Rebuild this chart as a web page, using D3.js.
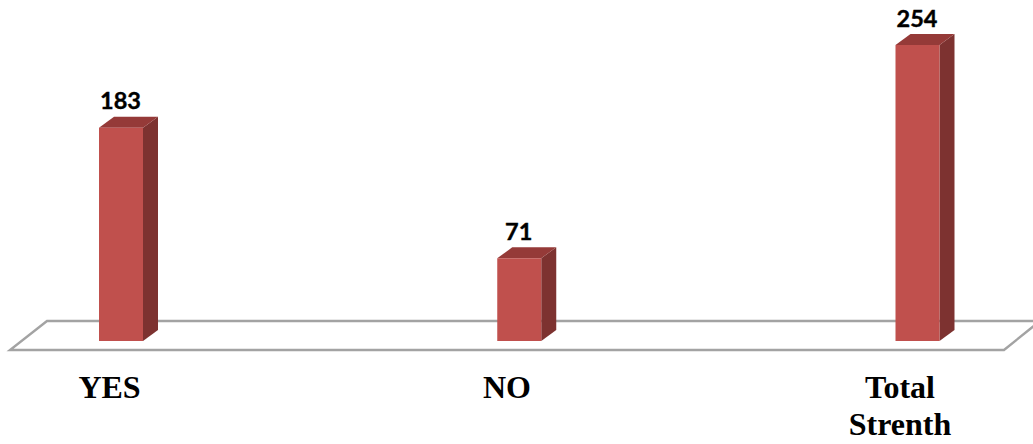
<!DOCTYPE html>
<html><head><meta charset="utf-8">
<style>html,body{margin:0;padding:0;background:#fff;overflow:hidden}svg{display:block}</style>
<script src="https://cdn.jsdelivr.net/npm/d3@7/dist/d3.min.js"></script></head>
<body><svg id="c" width="1033" height="444"></svg>
<script>
const categories = ["YES","NO","Total Strenth"];
const values = [183,71,254];
const categoryLines = [["YES"],["NO"],["Total","Strenth"]];

const svg = d3.select("#c");
const x = d3.scalePoint().domain(categories).range([121,917.5]);
const y = d3.scaleLinear().domain([0,254]).range([341,45]);
const barW = 44, dx = 15, dy = 11;

// floor
const floorPts = [[10,350],[1004,350],[1040,321],[47,321]];
svg.append("path").attr("d","M"+floorPts.map(p=>p.join(",")).join("L")+"Z")
  .attr("fill","#fff").attr("stroke","#a3a3a3").attr("stroke-width",2.4);

const g = svg.selectAll("g.bar").data(categories).join("g").attr("class","bar");
// side
g.append("path").attr("fill","#7d3230").attr("d",(c,i)=>{
  const r=x(c)+barW/2, t=y(values[i]), b=y(0);
  return `M${r},${t}L${r+dx},${t-dy}L${r+dx},${b-dy}L${r},${b}Z`;
});
// top
g.append("path").attr("fill","#953a38").attr("d",(c,i)=>{
  const l=x(c)-barW/2, r=x(c)+barW/2, t=y(values[i]);
  return `M${l},${t}L${l+dx},${t-dy}L${r+dx},${t-dy}L${r},${t}Z`;
});
// front
g.append("rect").attr("fill","#c0504d")
  .attr("x",c=>x(c)-barW/2).attr("width",barW)
  .attr("y",(c,i)=>y(values[i])).attr("height",(c,i)=>y(0)-y(values[i]));
// value labels
g.append("text").attr("x",c=>x(c)-0.5).attr("y",(c,i)=>y(values[i])-18.5)
  .attr("text-anchor","middle").attr("font-family","Lato, sans-serif")
  .attr("font-weight",700).attr("font-size",23.5).attr("fill","#000")
  .attr("stroke","#000").attr("stroke-width",0.4)
  .text((c,i)=>values[i]);
// category labels
const catX = [109.5,507,900];
g.each(function(c,i){
  const t=d3.select(this).append("text").attr("text-anchor","middle")
    .attr("font-family","'Liberation Serif', serif").attr("font-weight",700)
    .attr("font-size",32).attr("fill","#000");
  categoryLines[i].forEach((line,j)=>{
    t.append("tspan").attr("x",catX[i]).attr("y",398+j*37).text(line);
  });
});
</script></body></html>
